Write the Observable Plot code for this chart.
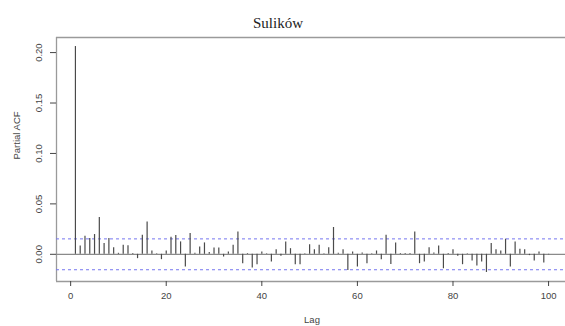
<!DOCTYPE html>
<html>
<head>
<meta charset="utf-8">
<script src="https://cdn.jsdelivr.net/npm/d3@7"></script>
<script src="https://cdn.jsdelivr.net/npm/@observablehq/plot@0.6"></script>
<style>
  html, body { margin: 0; padding: 0; background: #fff; }
  #chart svg { display: block; }
</style>
</head>
<body>
<div id="chart"></div>
<script>
// Partial autocorrelation of the Sulików series, lags 1..100
const title = "Sulików";
const pacf = [
  0.206, 0.0083, 0.018, 0.0156, 0.0196, 0.0366, 0.0106, 0.0156, 0.0066, 0.001,
  0.009, 0.0086, 0.0007, -0.0043, 0.019, 0.032, 0.0033, 0.0005, -0.0053, 0.0033,
  0.017, 0.0186, 0.0123, -0.0126, 0.0206, 0.001, 0.0073, 0.0113, 0.0017, 0.0063,
  0.0063, -0.0027, 0.0023, 0.009, 0.022, -0.0093, 0.0007, -0.0136, -0.0103, 0.0023,
  0.0005, -0.0076, 0.0046, -0.002, 0.0123, 0.0056, -0.0103, -0.0103, 0.0005, 0.0096,
  0.0046, 0.009, 0.0005, 0.0066, 0.0266, 0.001, 0.0046, -0.016, 0.0023, -0.0126,
  0.0013, -0.0093, 0.0005, 0.0033, -0.0053, 0.019, -0.01, 0.0113, 0.0007, 0.0007,
  0.0007, 0.022, -0.0093, -0.0076, 0.0066, 0.0013, 0.0083, -0.0143, 0.0007, 0.0046,
  -0.002, -0.0103, 0.0005, -0.0066, -0.0116, -0.0076, -0.018, 0.0106, 0.0046, 0.0033,
  0.015, -0.0126, 0.0123, 0.005, 0.0046, -0.0013, -0.0066, 0.0023, -0.0086, -0.0005
];
// approximate 95% white-noise bounds
const ci = 0.0153;
const xTicks = [0, 20, 40, 60, 80, 100];
const yTicks = [0, 0.05, 0.10, 0.15, 0.20];

const data = pacf.map((v, i) => ({lag: i + 1, pacf: v}));

// axis limits padded by 4% on each side, like base R graphics
const xLo = d3.min(data, d => d.lag), xHi = d3.max(data, d => d.lag);
const xPad = 0.04 * (xHi - xLo);
const yLo = Math.min(d3.min(pacf), -ci), yHi = Math.max(d3.max(pacf), ci);
const yPad = 0.04 * (yHi - yLo);
const xDomain = [xLo - xPad, xHi + xPad];
const yDomain = [yLo - yPad, yHi + yPad];

const boxColor = "#9a9a9a";
const inkColor = "#4a4a4a";

const chart = Plot.plot({
  width: 565,
  height: 326,
  marginTop: 37,
  marginBottom: 45,
  marginLeft: 56,
  marginRight: -2,
  style: {fontFamily: "'Liberation Sans', Arial, sans-serif", fontSize: "9.5px", color: "#444", background: "#fff"},
  x: {domain: xDomain},
  y: {domain: yDomain},
  marks: [
    // plot box: left, top, bottom
    Plot.ruleX([xDomain[0]], {stroke: boxColor, strokeWidth: 1.3}),
    Plot.ruleY(yDomain, {stroke: boxColor, strokeWidth: 1.3}),
    // zero line
    Plot.ruleY([0], {stroke: "#8a8a8a", strokeWidth: 1.3}),
    // confidence bounds
    Plot.ruleY([ci, -ci], {stroke: "#7676f0", strokeWidth: 1, strokeDasharray: "3,3"}),
    // spikes
    Plot.ruleX(data, {x: "lag", y1: 0, y2: "pacf", stroke: inkColor, strokeWidth: 1.2}),
    Plot.axisX({ticks: xTicks, tickSize: 5, tickPadding: 6, label: null}),
    Plot.axisY({ticks: yTicks, tickSize: 6, tickPadding: 9, tickRotate: -90, tickFormat: d3.format(".2f"), label: null}),
    Plot.text([title], {text: d => d, frameAnchor: "top", dy: -20, dx: -34, fontFamily: "'Liberation Serif', 'Times New Roman', serif", fontSize: 15, fill: "#222"}),
    Plot.text(["Lag"], {text: d => d, frameAnchor: "bottom", dy: 41, fill: "#444"}),
    Plot.text(["Partial ACF"], {text: d => d, frameAnchor: "left", dx: -40, rotate: -90, fill: "#444"})
  ]
});

document.getElementById("chart").append(chart);
</script>
</body>
</html>
